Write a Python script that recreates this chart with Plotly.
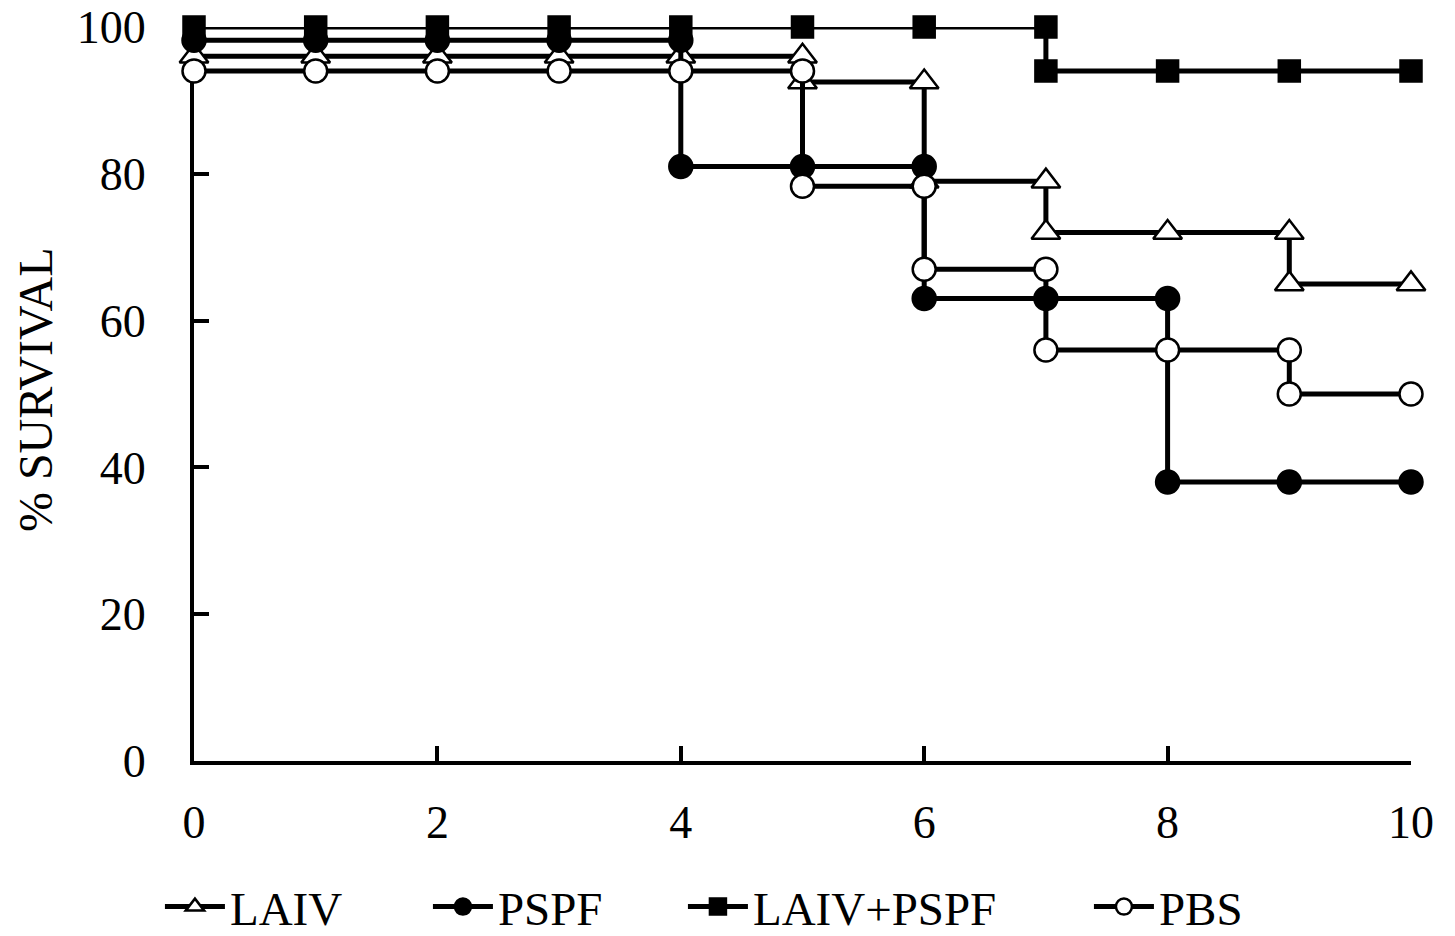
import plotly.graph_objects as go

days = [0, 1, 2, 3, 4, 5, 6, 7, 8, 9, 10]
laiv = [96, 96, 96, 96, 96, 92.5, 79, 72, 72, 65, 65]
pspf = [98.2, 98.2, 98.2, 98.2, 81, 81, 63, 63, 38, 38, 38]
laiv_pspf = [100, 100, 100, 100, 100, 100, 100, 94, 94, 94, 94]
pbs = [94, 94, 94, 94, 94, 78.3, 67, 56, 56, 50, 50]

series_names = ["LAIV", "PSPF", "LAIV+PSPF", "PBS"]
series_values = [laiv, pspf, laiv_pspf, pbs]
symbols = ["triangle-up", "circle", "square", "circle"]
fills = ["white", "black", "black", "white"]
sizes = [25, 23, 21, 23]
legend_widths = [193, 180, 331, 120]


def step_points(xs, ys):
    sx, sy = [xs[0]], [ys[0]]
    for i in range(1, len(xs)):
        if ys[i] != ys[i - 1]:
            sx.append(xs[i])
            sy.append(ys[i - 1])
        sx.append(xs[i])
        sy.append(ys[i])
    return sx, sy


fig = go.Figure()
for name, vals, sym, fill, sz, lw in zip(series_names, series_values, symbols, fills, sizes, legend_widths):
    sx, sy = step_points(days, vals)
    fig.add_trace(go.Scatter(
        x=sx, y=sy, name=name, mode="lines+markers",
        line=dict(color="black", width=5),
        marker=dict(symbol=sym, size=sz, color=fill,
                    line=dict(color="black", width=2.5)),
        cliponaxis=False, legendwidth=lw,
    ))

font_family = "Liberation Serif, Times New Roman, serif"

fig.update_layout(
    width=1447, height=928,
    margin=dict(l=186, r=44, t=19, b=175, autoexpand=False),
    plot_bgcolor="white", paper_bgcolor="white",
    font=dict(family=font_family, size=44, color="black"),
    showlegend=True,
    legend=dict(orientation="h", x=0.105, xref="container", xanchor="left",
                y=-0.199, yanchor="middle",
                font=dict(size=47, family=font_family), itemwidth=60,
                traceorder="normal", bgcolor="rgba(0,0,0,0)"),
    annotations=[dict(
        text="% SURVIVAL", textangle=-90, showarrow=False,
        xref="paper", yref="paper", x=-0.1306, y=0.5054,
        xanchor="center", yanchor="middle",
        font=dict(size=48, family=font_family, color="black"),
    )],
)
fig.update_xaxes(
    range=[0, 10], tickvals=[0, 2, 4, 6, 8, 10], ticks="inside", ticklen=15, tickwidth=4,
    tickcolor="black", showline=True, linewidth=4, linecolor="black", showgrid=False,
    zeroline=False, ticklabelstandoff=18, layer="below traces", automargin=False,
    ticklabeloverflow="allow", tickfont=dict(size=46),
)
fig.update_yaxes(
    range=[0, 100], tickvals=[0, 20, 40, 60, 80, 100], ticks="inside", ticklen=15, tickwidth=4,
    tickcolor="black", showline=True, linewidth=4, linecolor="black", showgrid=False,
    zeroline=False, ticklabelstandoff=35, layer="below traces", automargin=False,
    ticklabeloverflow="allow", tickfont=dict(size=46),
)

fig.write_html("out.html")
